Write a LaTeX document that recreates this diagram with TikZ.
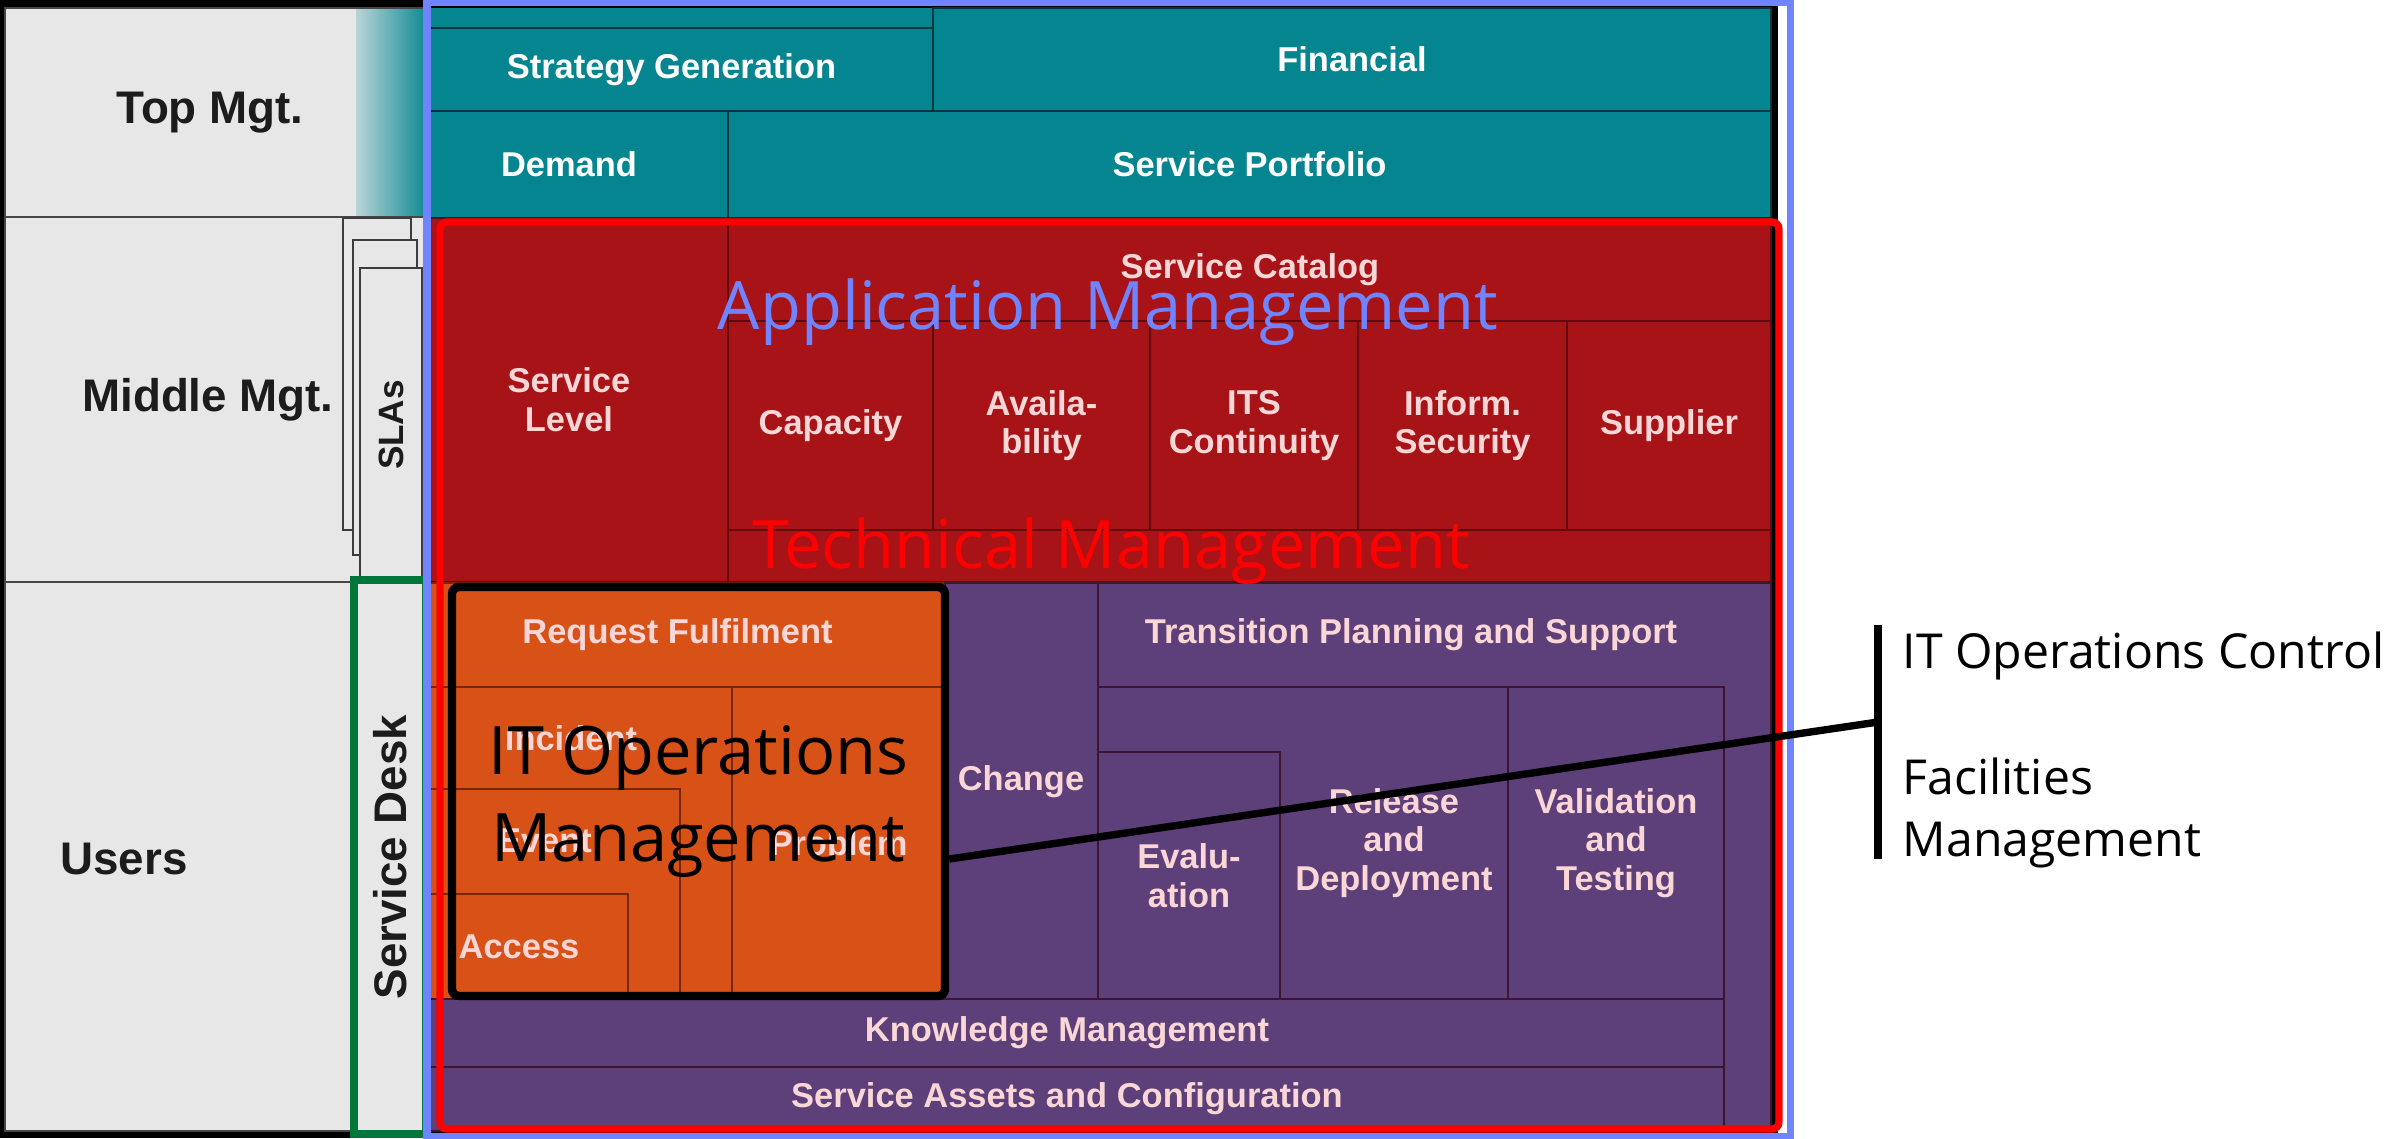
\documentclass[tikz,border=0pt]{standalone}
\usepackage{fontspec}
\setmainfont{Liberation Sans}
\newfontfamily\slidefont{Open Sans}
\usepackage{graphicx}
\usetikzlibrary{positioning, fit}

\definecolor{itilteal}{RGB}{5,133,143}
\definecolor{itilred}{RGB}{167,19,22}
\definecolor{itilorange}{RGB}{216,82,24}
\definecolor{itilpurple}{RGB}{93,63,121}
\definecolor{tealline}{RGB}{0,55,60}
\definecolor{redline}{RGB}{95,10,12}
\definecolor{orangeline}{RGB}{120,38,10}
\definecolor{purpleline}{RGB}{60,22,48}
\definecolor{panelgray}{RGB}{231,231,231}
\definecolor{fadeteal}{RGB}{185,212,216}
\definecolor{pinktext}{RGB}{250,214,214}
\definecolor{appblue}{RGB}{112,132,255}
\definecolor{deskgreen}{RGB}{0,118,58}
\definecolor{labelgray}{RGB}{28,28,28}

\newcommand{\itilfont}{\fontsize{9.8}{11}\selectfont\bfseries}
\newcommand{\rowfont}{\fontsize{13}{15}\selectfont\bfseries}
\newcommand{\bigfont}{\slidefont\fontsize{19}{25}\selectfont}
\newcommand{\sidefont}{\slidefont\fontsize{13.7}{17.9}\selectfont}

\tikzstyle{block} = [rectangle, inner sep=0pt, line width=0.6pt]
\tikzstyle{frame} = [rectangle, inner sep=0pt, draw, fill=none]

\begin{document}
\begin{tikzpicture}[
        x=0.01cm, y=-0.01cm,
        blocktext/.style={inner sep=0pt, align=center, font=\itilfont, text=pinktext},
        txt/.style={label={[blocktext]center:#1}},
        wtxt/.style={label={[blocktext, text=white]center:#1}},
        tealblk/.style={block, fill=itilteal, draw=tealline},
        redblk/.style={block, fill=itilred, draw=redline},
        orangeblk/.style={block, fill=itilorange, draw=orangeline},
        purpleblk/.style={block, fill=itilpurple, draw=purpleline},
        rowcell/.style={rectangle, inner sep=0pt, fill=panelgray, draw={rgb,255:red,70;green,70;blue,70}, line width=0.5pt},
        rowtext/.style={inner sep=0pt, font=\rowfont, text=labelgray},
        slapage/.style={rectangle, inner sep=0pt, fill=panelgray, draw={rgb,255:red,60;green,60;blue,60}, line width=0.5pt},
        bigtext/.style={inner sep=0pt, font=\bigfont},
        link/.style={line width=2.1pt, draw=black},
        bar/.style={line width=2.3pt, draw=black}
    ]
    \useasboundingbox (0,0) rectangle (2384,1138);

    % chart background
    \fill[black] (0,0) rectangle (1778,1138);
    \fill[itilteal] (410,8) rectangle (1771,218);
    \fill[itilpurple] (410,582) rectangle (1771,1131);

    % Strategy
    \node[tealblk, fit={(410,28) (933,111)}, wtxt=Strategy Generation] (strat) {};
    \node[tealblk, fit={(933,8) (1771,111)}, wtxt=Financial] (fin) {};
    \node[tealblk, fit={(410,111) (728,218)}, wtxt=Demand] (demand) {};
    \node[tealblk, fit={(728,111) (1771,218)}, wtxt=Service Portfolio] (portf) {};

    % Design
    \node[redblk, fit={(410,218) (728,582)}, txt=Service\\Level] (slevel) {};
    \node[redblk, fit={(728,218) (1771,582)}] (catalog) {};
    \node[blocktext] (catalogtxt) at (1250,270) {Service Catalog};
    \node[redblk, fit={(728,321) (933,530)}, txt=Capacity] (capac) {};
    \node[redblk, fit={(933,321) (1150,530)}, txt=Availa-\\bility] (avail) {};
    \node[redblk, fit={(1150,321) (1358,530)}, txt=ITS\\Continuity] (itscont) {};
    \node[redblk, fit={(1358,321) (1567,530)}, txt=Inform.\\Security] (infsec) {};
    \node[redblk, fit={(1567,321) (1771,530)}, txt=Supplier] (suppl) {};

    % Operation
    \node[orangeblk, fit={(410,583) (945,687)}, txt=Request Fulfilment] (reqf) {};
    \node[orangeblk, fit={(410,687) (732,999)}] (incid) {};
    \node[blocktext] (incidtxt) at (571,738) {Incident};
    \node[orangeblk, fit={(410,789) (680,999)}] (event) {};
    \node[blocktext] (eventtxt) at (545,841) {Event};
    \node[orangeblk, fit={(410,894) (628,999)}, txt=Access] (access) {};
    \node[orangeblk, fit={(732,687) (945,999)}, txt=Problem] (probl) {};

    % Transition
    \node[purpleblk, fit={(945,583) (1098,999)}] (change) {};
    \node[blocktext] (changetxt) at (1021,782) {Change};
    \node[purpleblk, fit={(1098,583) (1771,1131)}] (trans) {};
    \node[blocktext] (transtxt) at (1411,635) {Transition Planning and Support};
    \node[purpleblk, fit={(1098,687) (1508,999)}] (release) {};
    \node[blocktext] (releasetxt) at (1394,843) {Release\\and\\Deployment};
    \node[purpleblk, fit={(1098,752) (1280,999)}, txt=Evalu-\\ation] (evalu) {};
    \node[purpleblk, fit={(1508,687) (1724,999)}, txt=Validation\\and\\Testing] (valid) {};
    \node[purpleblk, fit={(410,999) (1724,1067)}, txt=Knowledge Management] (knowl) {};
    \node[purpleblk, fit={(410,1067) (1724,1131)}, txt=Service Assets and Configuration] (assets) {};

    % Left panel
    \node[rowcell, fit={(5,8) (430,217)}] (topcell) {};
    \shade[left color=fadeteal, right color=itilteal] (356,9) rectangle (430,216);
    \node[rowcell, fit={(5,217) (426,582)}] (midcell) {};
    \node[rowcell, fit={(5,582) (426,1131)}] (usercell) {};
    \node[rowtext] (toptxt) at (210,113) {Top Mgt.};
    \node[rowtext] (midtxt) at (208,400) {Middle Mgt.};
    \node[rowtext] (usertxt) at (124,859) {Users};
    \node[slapage, fit={(343,218) (411,530)}] (sla1) {};
    \node[slapage, fit={(353,240) (417,555)}] (sla2) {};
    \node[slapage, fit={(360,268) (422,582)}] (sla3) {};
    \node[rowtext, font=\fontsize{10}{12}\selectfont\bfseries, rotate=90] (slatxt) at (sla3) {SLAs};
    \node[rowcell, draw=deskgreen, line width=2.3pt, fit={(354,580) (426,1134)}] (desk) {};
    \node[rowtext, rotate=90] (desktxt) at (desk) {Service\ Desk};

    % Functions
    \node[frame, draw=red, line width=2.1pt, rounded corners=2pt, fit={(440,222) (1779,1129)}] (techmgt) {};
    \node[frame, draw=appblue, line width=2pt, fit={(427,2) (1790,1136)}] (appmgt) {};
    \node[frame, draw=black, line width=2.4pt, rounded corners=2pt, fit={(452,587) (945,996)}] (itops) {};
    \node[bigtext, align=center, yshift=-0.1cm] (itopstxt) at (itops) {IT Operations\\Management};
    \node[bigtext, text=appblue, anchor=base] (apptxt) at (1108,329) {Application Management};
    \node[bigtext, text=red, anchor=base] (techtxt) at (1111,568) {Technical Management};

    % IT Operations Management parts
    \node[inner sep=0pt, anchor=west, align=left, font=\sidefont] (opsctrl) at (1902,750) {IT Operations Control\\[17.9pt]Facilities\\Management};
    \coordinate (bartop) at (1878,625);
    \coordinate (barbot) at (1878,859);
    \coordinate (barjoin) at (1878,722);
    \draw[bar] (bartop) -- (barbot);
    \draw[link] (itops.east |- barbot) -- (barjoin);

\end{tikzpicture}
\end{document}
